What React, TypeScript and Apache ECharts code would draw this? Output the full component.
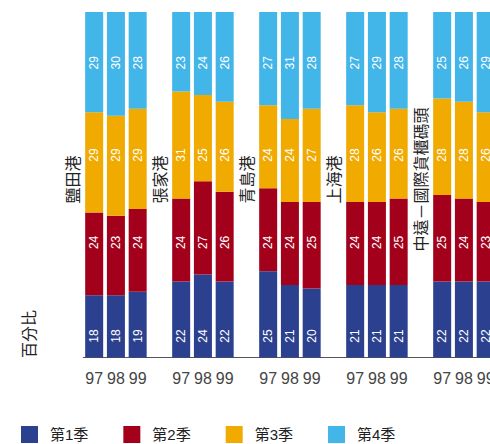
import React, { useEffect, useRef } from "react";
import * as echarts from "echarts";

// ---- Data ----
const PORTS = ["鹽田港", "張家港", "青島港", "上海港", "中遠－國際貨櫃碼頭"];
const YEARS = ["97", "98", "99"];
const QUARTERS = ["第1季", "第2季", "第3季", "第4季"];
// per port: [97, 98, 99]
const Q1 = [[18, 18, 19], [22, 24, 22], [25, 21, 20], [21, 21, 21], [22, 22, 22]];
const Q2 = [[24, 23, 24], [24, 27, 26], [24, 24, 25], [24, 24, 25], [25, 24, 23]];
const Q3 = [[29, 29, 29], [31, 25, 26], [24, 24, 27], [28, 26, 26], [28, 28, 26]];
const Q4 = [[29, 30, 28], [23, 24, 26], [27, 31, 28], [27, 29, 28], [25, 26, 29]];
const COLORS = ["#2b4190", "#a3001b", "#f0aa00", "#42b5e9"];

const CJK = '"Noto Sans CJK TC", "Noto Sans CJK SC", sans-serif';
const LATIN = '"Liberation Sans", "Noto Sans CJK TC", sans-serif';

export default function App() {
  const ref = useRef<HTMLDivElement>(null);
  useEffect(() => {
    document.body.style.margin = "0";
    const chart = echarts.init(ref.current!, undefined, { renderer: "svg" });

    // build category slots: 3 years per port with a blank slot between ports
    const categories: string[] = [];
    const slotOf: number[][] = [];
    PORTS.forEach((_, pi) => {
      slotOf.push([]);
      YEARS.forEach((y) => {
        slotOf[pi].push(categories.length);
        categories.push(y);
      });
      if (pi < PORTS.length - 1) categories.push("");
    });
    const allQ = [Q1, Q2, Q3, Q4];
    const seriesData = allQ.map((q) => {
      const arr: any[] = categories.map(() => "-");
      q.forEach((vals, pi) => vals.forEach((v, yi) => (arr[slotOf[pi][yi]] = v)));
      return arr;
    });
    // fixed label levels (percent of axis) for each quarter
    const LEVELS = [6.2, 33.3, 58.6, 85.3];
    const labelData: number[][] = [];
    allQ.forEach((q, qi) =>
      q.forEach((vals, pi) => vals.forEach((v, yi) => labelData.push([slotOf[pi][yi], LEVELS[qi], v])))
    );
    const NAME_LEVEL = 51.5;

    const slotW = 21.75;
    const gridLeft = 83.3;

    chart.setOption({
      animation: false,
      color: COLORS,
      grid: { left: gridLeft, top: 12, width: slotW * categories.length, bottom: 86.5, containLabel: false },
      legend: {
        data: QUARTERS,
        left: 21,
        top: 426,
        padding: 0,
        icon: "rect",
        itemWidth: 17,
        itemHeight: 17,
        itemGap: 35,
        textStyle: { fontSize: 15, color: "#222", fontFamily: LATIN, padding: [0, 0, 0, 7] },
      },
      xAxis: {
        type: "category",
        data: categories,
        axisTick: { show: false },
        axisLine: { show: true, lineStyle: { color: "#555", width: 1 } },
        axisLabel: { interval: 0, fontSize: 16, color: "#444", margin: 13, fontFamily: LATIN },
      },
      yAxis: {
        type: "value",
        min: 0,
        max: 100,
        show: false,
      },
      graphic: [
        {
          type: "text",
          x: 27.5,
          y: 334,
          rotation: Math.PI / 2,
          style: {
            text: "百分比",
            fontSize: 16,
            fill: "#222",
            fontFamily: CJK,
            align: "center",
            verticalAlign: "middle",
          },
        },
      ],
      series: [
        ...QUARTERS.map((name, i) => ({
          name,
          type: "bar",
          stack: "total",
          barWidth: 18,
          data: seriesData[i],
          itemStyle: { color: COLORS[i] },
        })),
        {
          type: "custom",
          z: 10,
          silent: true,
          clip: false,
          data: labelData,
          renderItem: (params: any, api: any) => {
            const p = api.coord([api.value(0), api.value(1)]);
            return {
              type: "text",
              x: p[0],
              y: p[1],
              rotation: Math.PI / 2,
              style: {
                text: String(api.value(2)),
                fill: "#fff",
                fontSize: 12,
                fontFamily: LATIN,
                align: "center",
                verticalAlign: "middle",
              },
            };
          },
        },
        {
          type: "custom",
          z: 10,
          silent: true,
          clip: false,
          data: PORTS.map((_, pi) => [slotOf[pi][0], NAME_LEVEL]),
          renderItem: (params: any, api: any) => {
            const p = api.coord([api.value(0), api.value(1)]);
            const w = api.size([1, 0])[0];
            return {
              type: "text",
              x: p[0] - w,
              y: p[1],
              rotation: Math.PI / 2,
              style: {
                text: PORTS[params.dataIndex],
                fill: "#222",
                fontSize: 16,
                fontFamily: CJK,
                align: "center",
                verticalAlign: "middle",
              },
            };
          },
        },
      ],
    });
    return () => chart.dispose();
  }, []);
  return (
    <div style={{ width: 490, height: 444, overflow: "hidden" }}>
      <div ref={ref} style={{ width: 520, height: 444 }} />
    </div>
  );
}
